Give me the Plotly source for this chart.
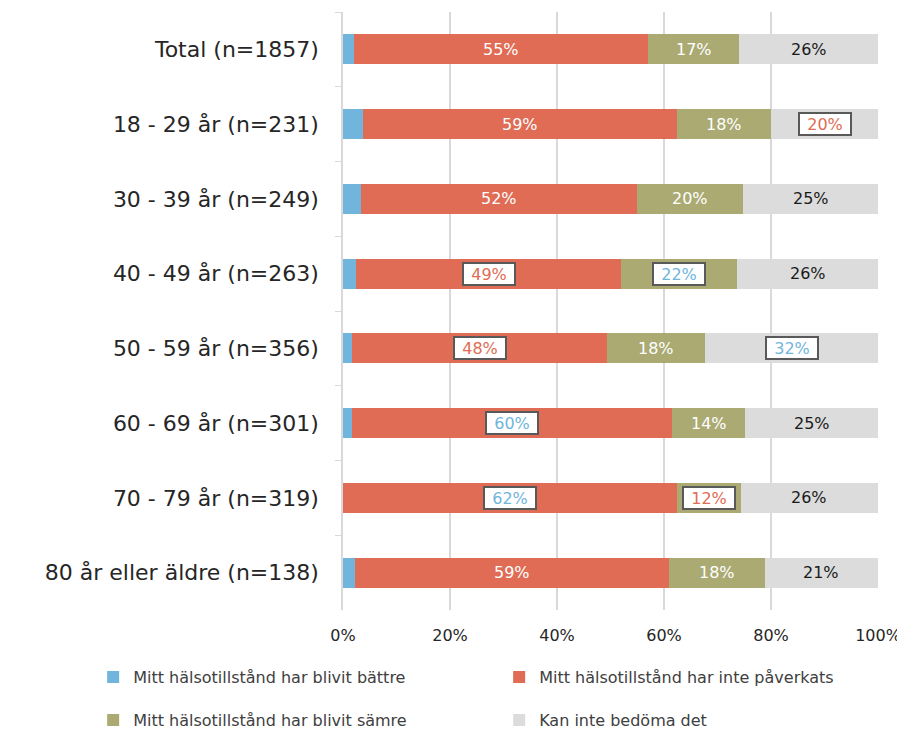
import plotly.graph_objects as go

categories = [
    "Total (n=1857)",
    "18 - 29 år (n=231)",
    "30 - 39 år (n=249)",
    "40 - 49 år (n=263)",
    "50 - 59 år (n=356)",
    "60 - 69 år (n=301)",
    "70 - 79 år (n=319)",
    "80 år eller äldre (n=138)",
]
series_names = [
    "Mitt hälsotillstånd har blivit bättre",
    "Mitt hälsotillstånd har inte påverkats",
    "Mitt hälsotillstånd har blivit sämre",
    "Kan inte bedöma det",
]
better = [2.0, 3.8, 3.3, 2.5, 1.7, 1.6, 0.0, 2.3]
unaffected = [55.1, 58.6, 51.7, 49.4, 47.7, 59.9, 62.4, 58.7]
worse = [17.0, 17.6, 19.8, 21.8, 18.3, 13.7, 11.9, 17.8]
cannot = [25.9, 20.0, 25.2, 26.3, 32.3, 24.8, 25.7, 21.2]
x_ticks = [0, 20, 40, 60, 80, 100]
x_tick_labels = ["0%", "20%", "40%", "60%", "80%", "100%"]

series_values = [better, unaffected, worse, cannot]

BLUE = "#71B5DC"
RED = "#E06C55"
GREEN = "#AAAA72"
GRAY = "#DCDCDC"
colors = [BLUE, RED, GREEN, GRAY]
label_colors = [None, "white", "white", "#1a1a1a"]

# highlighted (boxed) labels: (series index, category index) -> text colour
highlight = {
    (3, 1): RED,
    (1, 3): RED,
    (2, 3): BLUE,
    (1, 4): RED,
    (3, 4): BLUE,
    (1, 5): BLUE,
    (1, 6): BLUE,
    (2, 6): RED,
}

FONT = "DejaVu Sans"

fig = go.Figure()
for i, (name, vals) in enumerate(zip(series_names, series_values)):
    fig.add_trace(go.Bar(
        y=categories, x=vals, name=name, orientation="h",
        marker=dict(color=colors[i], line=dict(width=0)),
        legend="legend" if i < 2 else "legend2",
        hoverinfo="skip",
    ))

annotations = []
for ci, cat in enumerate(categories):
    start = 0.0
    for si, vals in enumerate(series_values):
        v = vals[ci]
        if si > 0:
            mid = start + v / 2
            txt = f"{round(v)}%"
            if (si, ci) in highlight:
                annotations.append(dict(
                    x=mid, y=cat, xref="x", yref="y", text=txt, showarrow=False,
                    font=dict(family=FONT, size=16, color=highlight[(si, ci)]),
                    bgcolor="white", bordercolor="#595959", borderwidth=2,
                    borderpad=2, width=46, height=16,
                ))
            else:
                annotations.append(dict(
                    x=mid, y=cat, xref="x", yref="y", text=txt, showarrow=False,
                    font=dict(family=FONT, size=16, color=label_colors[si]),
                ))
        start += v

legend_common = dict(
    orientation="h", xanchor="left", yanchor="middle",
    entrywidth=361, entrywidthmode="pixels", itemwidth=30,
    font=dict(family=FONT, size=16, color="#404040"), traceorder="normal",
    bgcolor="rgba(0,0,0,0)",
)

fig.update_layout(
    width=897, height=722,
    barmode="stack", bargap=0.6,
    plot_bgcolor="white", paper_bgcolor="white",
    margin=dict(l=335, r=27, t=4, b=120, autoexpand=False),
    font=dict(family=FONT, color="#262626"),
    annotations=annotations,
    legend=dict(x=-0.467, y=-0.112, **legend_common),
    legend2=dict(x=-0.467, y=-0.184, **legend_common),
    xaxis=dict(
        range=[0, 100], tickmode="array", tickvals=x_ticks, ticktext=x_tick_labels,
        showgrid=True, gridcolor="#D9D9D9", gridwidth=1.5,
        zeroline=False, showline=False, ticks="",
        tickfont=dict(family=FONT, size=16, color="#262626"),
        ticklabelstandoff=14,
    ),
    yaxis=dict(
        autorange="reversed", showline=True, linecolor="#D9D9D9", linewidth=1.5,
        ticks="outside", tickson="boundaries", ticklen=6, tickcolor="#D9D9D9",
        tickfont=dict(family=FONT, size=22, color="#262626"),
        ticklabelstandoff=18,
    ),
)

fig.write_html("out.html")
